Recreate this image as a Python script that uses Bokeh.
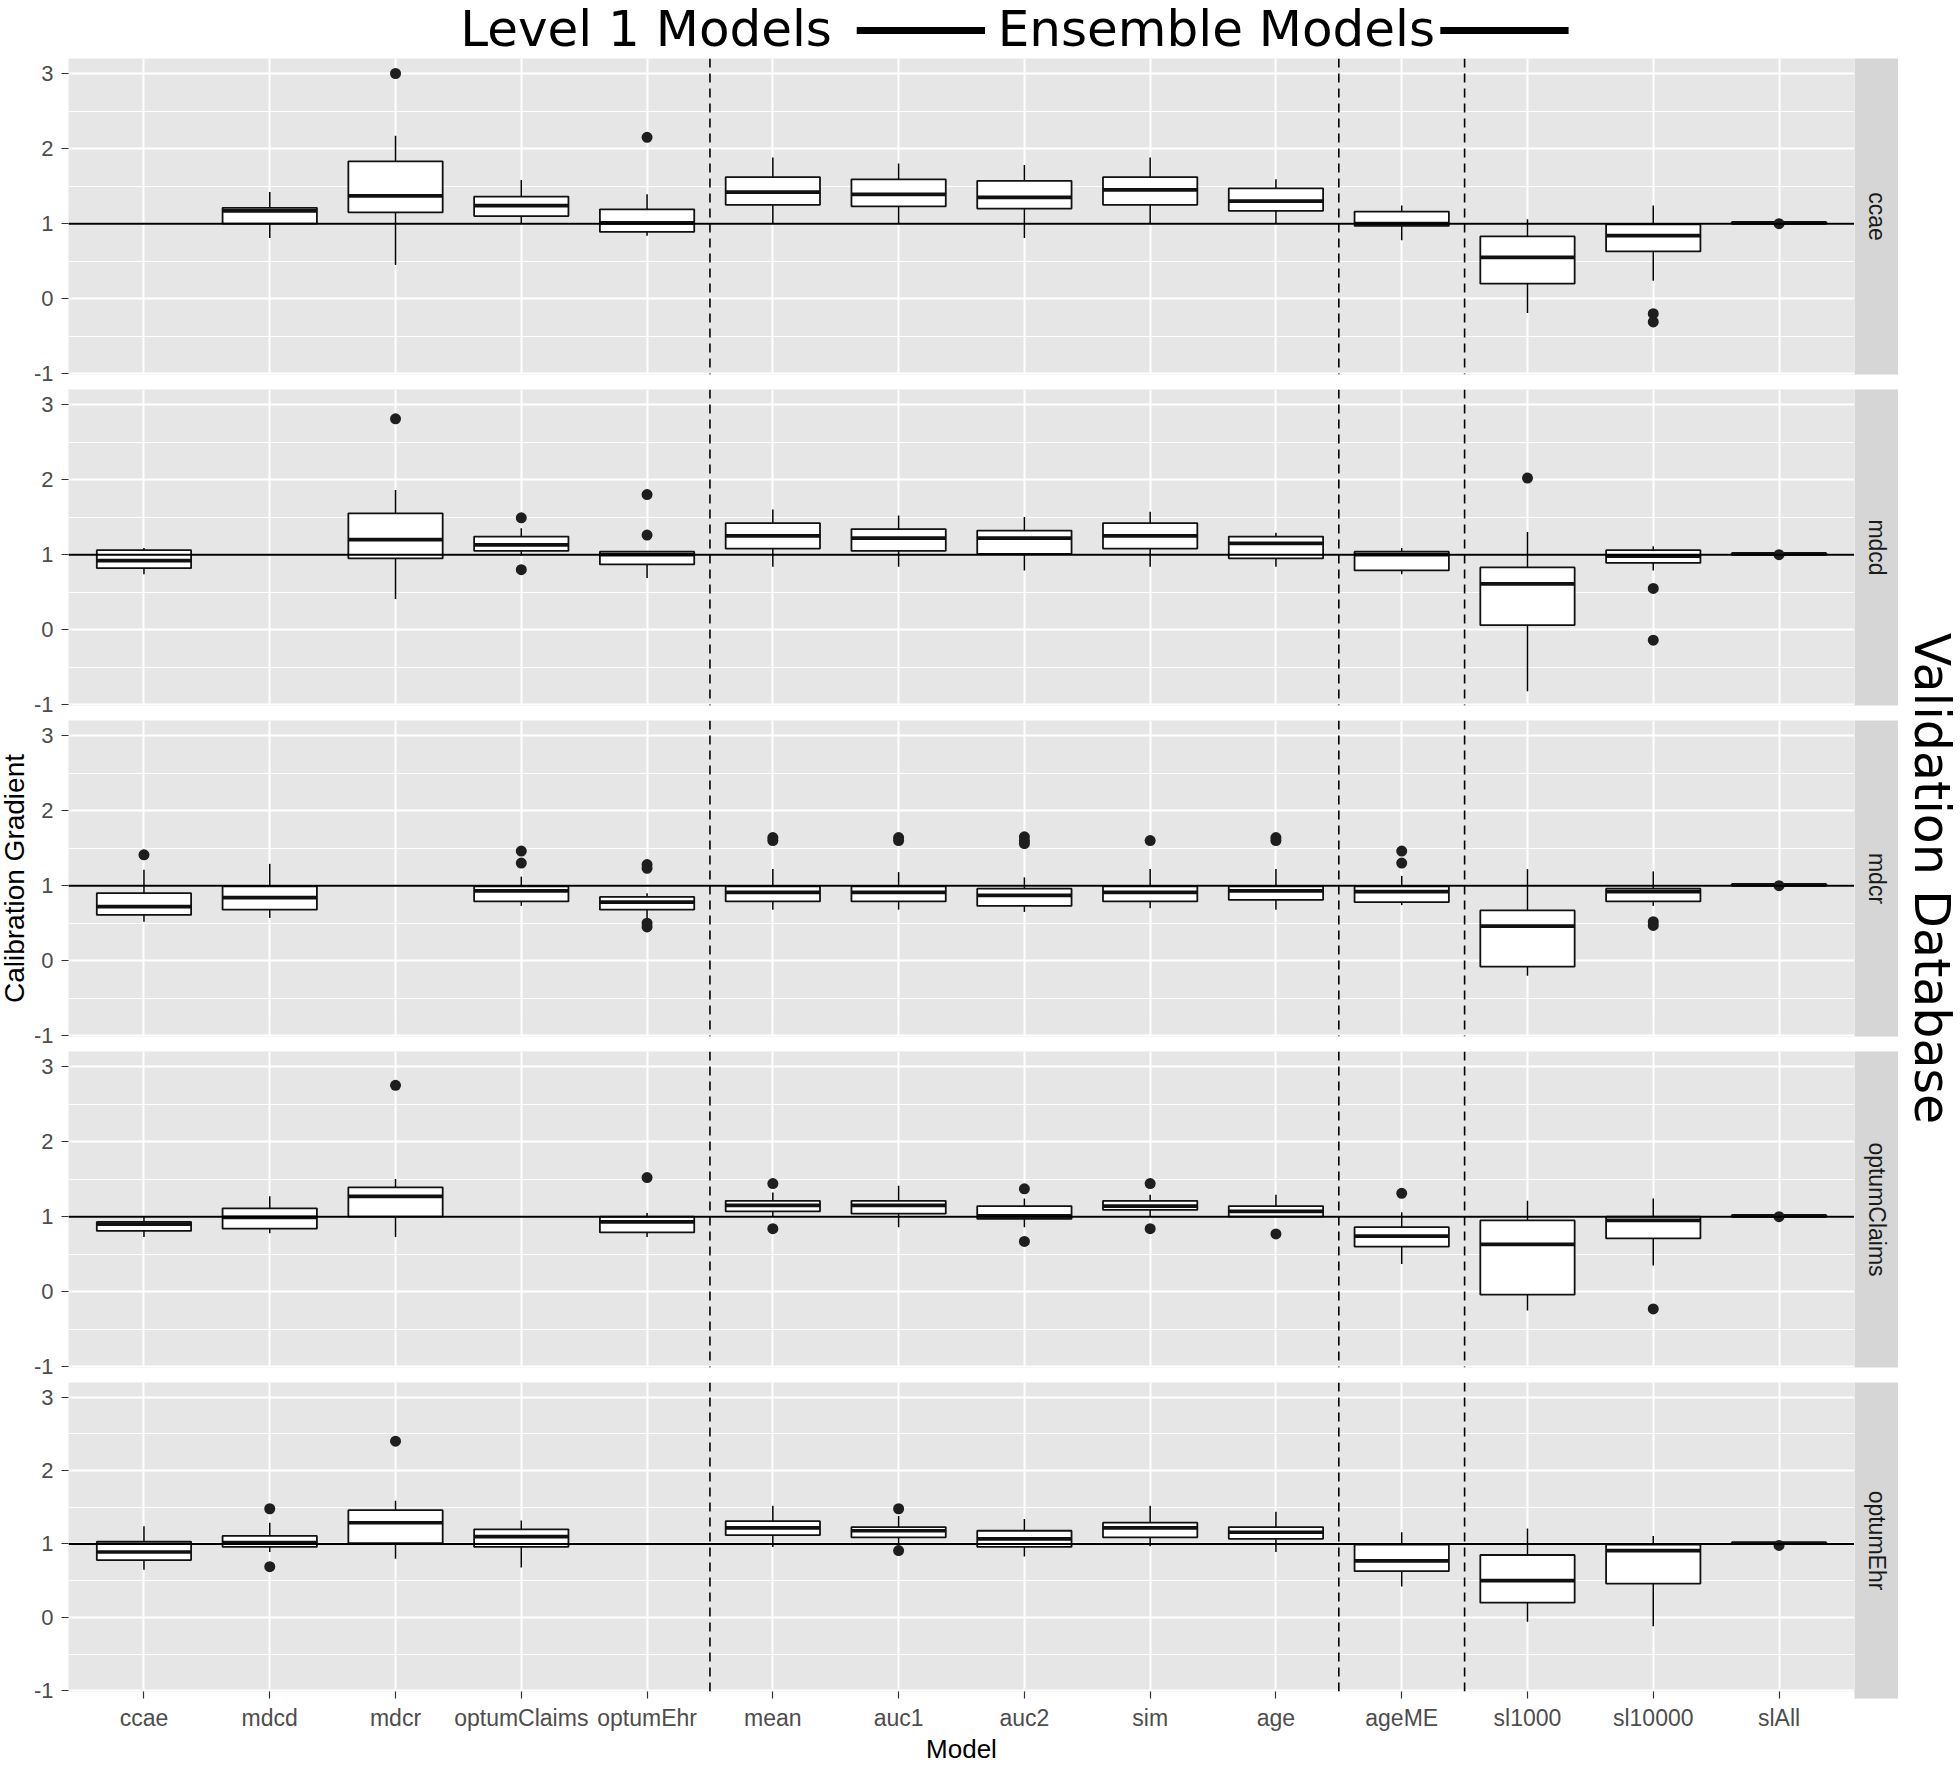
import math
from bokeh.plotting import figure
from bokeh.models import (ColumnDataSource, FactorRange, Range1d, FixedTicker,
                          CategoricalTicker, Span, Label, Spacer)
from bokeh.layouts import column, row
from bokeh.embed import file_html
from bokeh.resources import INLINE

# ---------------- data ----------------
MODELS = ["ccae", "mdcd", "mdcr", "optumClaims", "optumEhr", "mean", "auc1", "auc2",
          "sim", "age", "ageME", "sl1000", "sl10000", "slAll"]
DATABASES = ["ccae", "mdcd", "mdcr", "optumClaims", "optumEhr"]
GROUP_STARTS = ["mean", "ageME", "sl1000"]
Y_TICKS = [-1, 0, 1, 2, 3]
Y_MINOR = [-0.5, 0.5, 1.5, 2.5]
REFERENCE_GRADIENT = 1

TITLE_LEFT = "Level 1 Models"
TITLE_RIGHT = "Ensemble Models"
Y_TITLE = "Calibration Gradient"
X_TITLE = "Model"
FACET_TITLE = "Validation Database"

# validation database: ccae
ccae_lo  = [None, 0.81, 0.45, 1.00, 0.84, 1.00, 1.00, 0.81, 1.00, 1.00, 0.78, -0.19, 0.24, 1.00]
ccae_q1  = [None, 1.00, 1.15, 1.10, 0.89, 1.25, 1.23, 1.20, 1.25, 1.17, 0.97, 0.20, 0.63, 1.00]
ccae_med = [None, 1.17, 1.37, 1.24, 1.01, 1.42, 1.39, 1.35, 1.45, 1.30, 1.00, 0.55, 0.84, 1.01]
ccae_q3  = [None, 1.21, 1.83, 1.36, 1.19, 1.62, 1.59, 1.57, 1.62, 1.47, 1.16, 0.83, 0.99, 1.02]
ccae_hi  = [None, 1.42, 2.17, 1.58, 1.39, 1.88, 1.80, 1.78, 1.88, 1.59, 1.24, 1.06, 1.24, 1.02]
ccae_out_model = ["mdcr", "optumEhr", "sl10000", "sl10000", "slAll"]
ccae_out_value = [3.00, 2.15, -0.20, -0.31, 1.00]

# validation database: mdcd
mdcd_lo  = [0.74, None, 0.41, 0.99, 0.69, 0.84, 0.84, 0.79, 0.84, 0.84, 0.74, -0.82, 0.79, 1.00]
mdcd_q1  = [0.82, None, 0.95, 1.05, 0.87, 1.08, 1.05, 1.01, 1.08, 0.95, 0.79, 0.06, 0.89, 1.00]
mdcd_med = [0.92, None, 1.20, 1.13, 1.00, 1.25, 1.22, 1.22, 1.25, 1.15, 1.00, 0.61, 0.98, 1.01]
mdcd_q3  = [1.06, None, 1.55, 1.24, 1.04, 1.42, 1.34, 1.32, 1.42, 1.24, 1.04, 0.83, 1.06, 1.02]
mdcd_hi  = [1.09, None, 1.86, 1.35, 1.05, 1.60, 1.52, 1.50, 1.57, 1.29, 1.09, 1.30, 1.11, 1.02]
mdcd_out_model = ["mdcr", "optumClaims", "optumClaims", "optumEhr", "optumEhr", "sl1000",
                  "sl10000", "sl10000", "slAll"]
mdcd_out_value = [2.81, 1.49, 0.80, 1.80, 1.26, 2.02, 0.55, -0.14, 1.00]

# validation database: mdcr
mdcr_lo  = [0.52, 0.57, None, 0.73, 0.55, 0.68, 0.68, 0.65, 0.70, 0.68, 0.74, -0.20, 0.73, 1.00]
mdcr_q1  = [0.61, 0.68, None, 0.79, 0.68, 0.79, 0.79, 0.73, 0.79, 0.81, 0.78, -0.08, 0.79, 1.00]
mdcr_med = [0.72, 0.84, None, 0.93, 0.78, 0.91, 0.91, 0.87, 0.91, 0.93, 0.92, 0.46, 0.92, 1.01]
mdcr_q3  = [0.90, 0.99, None, 0.99, 0.85, 0.99, 0.99, 0.96, 0.99, 0.99, 0.99, 0.67, 0.96, 1.02]
mdcr_hi  = [1.21, 1.29, None, 1.12, 0.90, 1.22, 1.18, 1.11, 1.22, 1.22, 1.13, 1.22, 1.19, 1.02]
mdcr_out_model = ["ccae", "optumClaims", "optumClaims", "optumEhr", "optumEhr", "optumEhr",
                  "optumEhr", "mean", "mean", "auc1", "auc1", "auc2", "auc2", "auc2", "sim",
                  "age", "age", "ageME", "ageME", "sl10000", "sl10000", "slAll"]
mdcr_out_value = [1.41, 1.46, 1.30, 1.28, 1.23, 0.50, 0.45, 1.64, 1.60, 1.64, 1.60, 1.65,
                  1.60, 1.56, 1.60, 1.64, 1.60, 1.46, 1.30, 0.52, 0.47, 1.00]

# validation database: optumClaims
oc_lo  = [0.73, 0.78, 0.73, None, 0.73, 1.00, 0.86, 0.86, 1.00, 1.00, 0.37, -0.25, 0.35, 1.00]
oc_q1  = [0.81, 0.84, 1.00, None, 0.79, 1.07, 1.04, 0.97, 1.09, 1.00, 0.60, -0.04, 0.71, 1.00]
oc_med = [0.90, 0.99, 1.27, None, 0.93, 1.15, 1.15, 1.01, 1.14, 1.07, 0.74, 0.63, 0.95, 1.01]
oc_q3  = [0.93, 1.11, 1.39, None, 1.00, 1.21, 1.21, 1.14, 1.21, 1.14, 0.86, 0.95, 1.00, 1.02]
oc_hi  = [1.00, 1.27, 1.50, None, 1.05, 1.32, 1.41, 1.24, 1.29, 1.29, 1.06, 1.21, 1.24, 1.02]
oc_out_model = ["mdcr", "optumEhr", "mean", "mean", "auc2", "auc2", "sim", "sim", "age",
                "ageME", "sl10000", "slAll"]
oc_out_value = [2.75, 1.52, 1.44, 0.84, 1.37, 0.67, 1.44, 0.84, 0.77, 1.31, -0.23, 1.00]

# validation database: optumEhr
oe_lo  = [0.65, 0.89, 0.80, 0.68, None, 0.96, 1.00, 0.83, 0.97, 0.89, 0.42, -0.06, -0.12, 1.00]
oe_q1  = [0.78, 0.96, 1.01, 0.96, None, 1.12, 1.09, 0.96, 1.09, 1.07, 0.63, 0.20, 0.46, 1.00]
oe_med = [0.89, 1.02, 1.29, 1.10, None, 1.22, 1.18, 1.07, 1.22, 1.16, 0.77, 0.50, 0.91, 1.01]
oe_q3  = [1.03, 1.11, 1.46, 1.20, None, 1.31, 1.23, 1.18, 1.29, 1.23, 0.99, 0.85, 0.99, 1.02]
oe_hi  = [1.24, 1.29, 1.59, 1.32, None, 1.52, 1.38, 1.34, 1.52, 1.44, 1.16, 1.21, 1.11, 1.02]
oe_out_model = ["mdcd", "mdcd", "mdcr", "auc1", "auc1", "slAll"]
oe_out_value = [1.48, 0.69, 2.40, 1.48, 0.91, 0.98]

STATS = {
    "ccae": (ccae_lo, ccae_q1, ccae_med, ccae_q3, ccae_hi, ccae_out_model, ccae_out_value),
    "mdcd": (mdcd_lo, mdcd_q1, mdcd_med, mdcd_q3, mdcd_hi, mdcd_out_model, mdcd_out_value),
    "mdcr": (mdcr_lo, mdcr_q1, mdcr_med, mdcr_q3, mdcr_hi, mdcr_out_model, mdcr_out_value),
    "optumClaims": (oc_lo, oc_q1, oc_med, oc_q3, oc_hi, oc_out_model, oc_out_value),
    "optumEhr": (oe_lo, oe_q1, oe_med, oe_q3, oe_hi, oe_out_model, oe_out_value),
}

# ---------------- style / layout ----------------
PANEL_BG = "#E6E6E6"
STRIP_BG = "#D6D6D6"
TICK_COLOR = "#4D4D4D"
FONT = "Liberation Sans"
BIG_FONT = "DejaVu Sans"

LEFT_W = 30
PANEL_W = 1824
AXIS_W = 38
STRIP_W = 44
RIGHT_W = 62
HEADER_H = 58
FRAME_H = 316
GAP = 15
BOTTOM_AXIS = 68
TOTAL_H = HEADER_H + 4 * (FRAME_H + GAP) + FRAME_H + BOTTOM_AXIS
PANELS_MID = HEADER_H + (4 * (FRAME_H + GAP) + FRAME_H) / 2.0


def bare(width, height, **kw):
    f = figure(width=width, height=height, x_range=Range1d(0, width), y_range=Range1d(0, height),
               x_axis_location=None, y_axis_location=None, output_backend="svg",
               toolbar_location=None, outline_line_color=None, min_border=0,
               background_fill_color="white", border_fill_color="white", **kw)
    f.grid.visible = False
    return f


def make_panel(db, last):
    lo, q1, med, q3, hi, out_m, out_v = STATS[db]
    keep = [i for i, m in enumerate(med) if m is not None]
    src = ColumnDataSource(dict(
        model=[MODELS[i] for i in keep], lo=[lo[i] for i in keep], q1=[q1[i] for i in keep],
        med=[med[i] for i in keep], q3=[q3[i] for i in keep], hi=[hi[i] for i in keep]))
    osrc = ColumnDataSource(dict(model=out_m, value=out_v))

    bottom = BOTTOM_AXIS if last else GAP
    p = figure(x_range=FactorRange(factors=MODELS, range_padding=0.1, range_padding_units="absolute"),
               y_range=Range1d(-1.01, 3.2), width=PANEL_W, height=FRAME_H + bottom,
               min_border_left=AXIS_W, min_border_right=0, min_border_top=0, min_border_bottom=bottom,
               x_axis_location="below" if last else None,
               output_backend="svg", toolbar_location=None,
               background_fill_color=PANEL_BG, border_fill_color="white", outline_line_color=None)

    yt = FixedTicker(ticks=Y_TICKS, minor_ticks=Y_MINOR)
    p.yaxis.ticker = yt
    p.ygrid.ticker = yt
    p.xgrid.ticker = CategoricalTicker()
    p.xgrid.grid_line_color = "white"
    p.xgrid.grid_line_width = 2.0
    p.ygrid.grid_line_color = "white"
    p.ygrid.grid_line_width = 2.2
    p.ygrid.minor_grid_line_color = "white"
    p.ygrid.minor_grid_line_width = 1.2

    ax = p.yaxis[0]
    ax.axis_line_color = None
    ax.major_tick_out = 7
    ax.major_tick_in = 0
    ax.major_tick_line_color = "#333333"
    ax.major_tick_line_width = 1.2
    ax.minor_tick_line_color = None
    ax.major_label_standoff = 8
    ax.major_label_text_font = FONT
    ax.major_label_text_font_size = "22px"
    ax.major_label_text_color = TICK_COLOR
    ax.major_label_overrides = {t: str(t) for t in Y_TICKS}

    if last:
        xa = p.xaxis[0]
        xa.axis_line_color = None
        xa.major_tick_out = 7
        xa.major_tick_in = 0
        xa.major_tick_line_color = "#333333"
        xa.major_tick_line_width = 1.2
        xa.major_label_standoff = 6
        xa.major_label_text_font = FONT
        xa.major_label_text_font_size = "23px"
        xa.major_label_text_color = TICK_COLOR
        xa.axis_label = X_TITLE
        xa.axis_label_standoff = 0
        xa.axis_label_text_font = FONT
        xa.axis_label_text_font_size = "26px"
        xa.axis_label_text_font_style = "normal"
        xa.axis_label_text_color = "black"

    p.segment(x0="model", y0="lo", x1="model", y1="q1", source=src, line_color="black", line_width=1.5)
    p.segment(x0="model", y0="q3", x1="model", y1="hi", source=src, line_color="black", line_width=1.5)
    p.vbar(x="model", width=0.75, bottom="q1", top="q3", source=src,
           fill_color="white", line_color="#111111", line_width=1.8)
    p.rect(x="model", y="med", width=0.75, height=3.6, height_units="screen", source=src,
           fill_color="#111111", line_color=None)
    p.scatter(x="model", y="value", source=osrc, size=11, fill_color="#1E1E1E", line_color=None)

    p.add_layout(Span(location=REFERENCE_GRADIENT, dimension="width", line_color="black", line_width=2))
    for g in GROUP_STARTS:
        p.add_layout(Span(location=MODELS.index(g), dimension="height", line_color="black",
                          line_width=1.6, line_dash="9 6"))
    return p


def make_strip(db, last):
    bottom = BOTTOM_AXIS if last else GAP
    s = figure(width=STRIP_W, height=FRAME_H + bottom, x_range=Range1d(0, 1), y_range=Range1d(0, 1),
               x_axis_location=None, y_axis_location=None, output_backend="svg",
               toolbar_location=None, outline_line_color=None, min_border_left=0,
               min_border_right=0, min_border_top=0, min_border_bottom=bottom,
               background_fill_color=STRIP_BG, border_fill_color="white")
    s.grid.visible = False
    s.add_layout(Label(x=0.5, y=0.5, text=db, angle=-math.pi / 2, text_align="center",
                       text_baseline="middle", text_font=FONT, text_font_size="23px",
                       text_color="#1A1A1A"))
    return s


panels = [make_panel(db, i == len(DATABASES) - 1) for i, db in enumerate(DATABASES)]
strips = [make_strip(db, i == len(DATABASES) - 1) for i, db in enumerate(DATABASES)]

header = bare(PANEL_W, HEADER_H)
header.add_layout(Label(x=400, y=29.5, text=TITLE_LEFT, text_font=BIG_FONT, text_font_size="50px",
                        text_align="left", text_baseline="alphabetic", text_color="black"))
header.add_layout(Label(x=949, y=29.5, text=TITLE_RIGHT, text_font=BIG_FONT, text_font_size="50px",
                        text_align="left", text_baseline="alphabetic", text_color="black"))
header.segment(x0=[805, 1401], y0=[28, 28], x1=[936, 1532], y1=[28, 28],
               line_color="black", line_width=7, line_cap="butt")

left = bare(LEFT_W, TOTAL_H)
left.add_layout(Label(x=14, y=TOTAL_H - PANELS_MID, text=Y_TITLE, angle=math.pi / 2,
                      text_align="center", text_baseline="middle", text_font=FONT,
                      text_font_size="28px", text_color="black"))

right = bare(RIGHT_W, TOTAL_H)
right.add_layout(Label(x=33, y=TOTAL_H - PANELS_MID, text=FACET_TITLE, angle=-math.pi / 2,
                       text_align="center", text_baseline="middle", text_font=BIG_FONT,
                       text_font_size="49px", text_color="black"))

panels_col = column([header] + panels, spacing=0)
strips_col = column([Spacer(width=STRIP_W, height=HEADER_H)] + strips, spacing=0)
layout = row([left, panels_col, strips_col, right], spacing=0)
layout.styles = {"position": "absolute", "top": "0px", "left": "0px"}

open("out.html", "w").write(file_html(layout, INLINE))
